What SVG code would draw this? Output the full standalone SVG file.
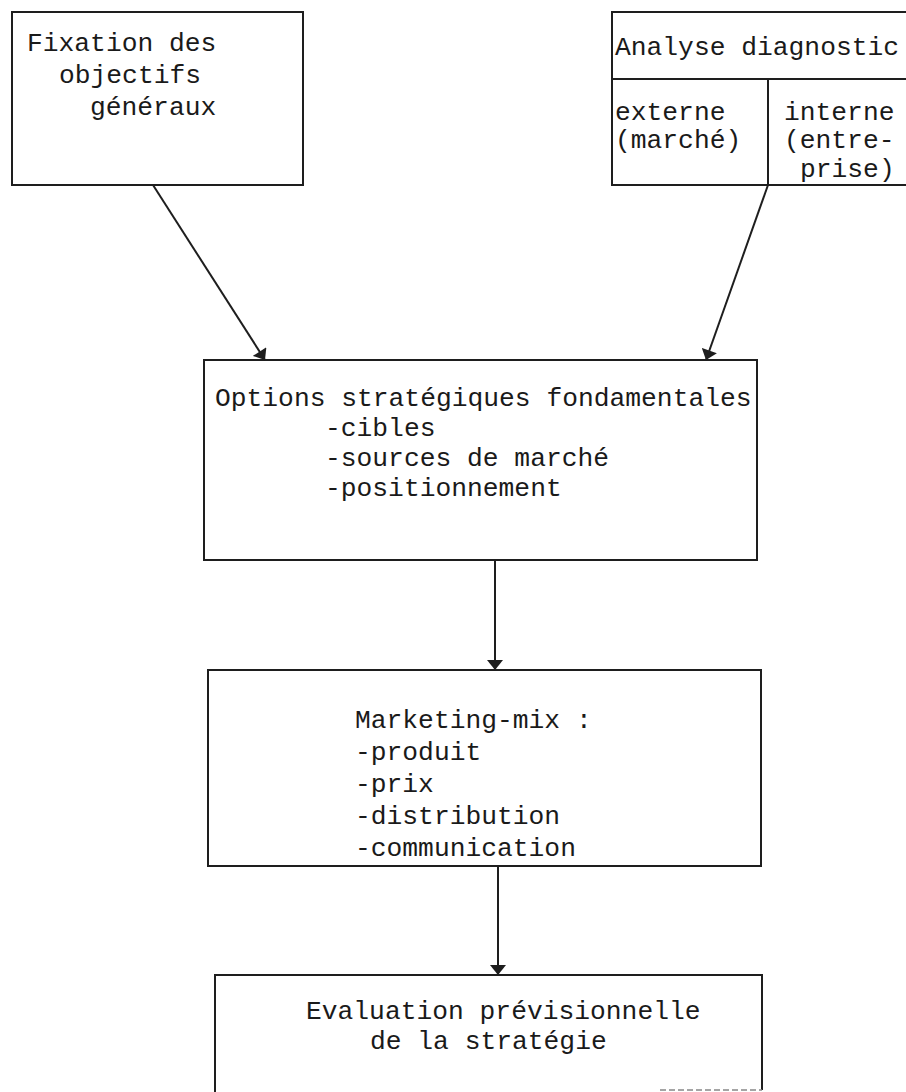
<svg xmlns="http://www.w3.org/2000/svg" width="906" height="1092" viewBox="0 0 906 1092">
<defs>
<style>
.box{fill:none;stroke:#1e1e1e;stroke-width:2}
.t{font-family:"Liberation Mono","DejaVu Sans Mono",monospace;font-size:26.3px;fill:#1a1a1a}
.c{stroke:#1e1e1e;stroke-width:2;fill:none}
</style>
<marker id="arr" viewBox="0 0 10 16" refX="10" refY="8" markerWidth="11" markerHeight="16" markerUnits="userSpaceOnUse" orient="auto">
<path d="M0,0 L10,8 L0,16 Z" fill="#1e1e1e"/>
</marker>
</defs>
<rect width="906" height="1092" fill="#ffffff"/>
<g id="fixation">
<rect class="box" x="12" y="12" width="291" height="173"/>
<text class="t" x="27" y="51">Fixation des</text>
<text class="t" x="59" y="83">objectifs</text>
<text class="t" x="90" y="115">généraux</text>
</g>
<g id="analyse">
<path class="box" d="M906,12 H612 V185 H906 M612,79 H906 M768,79 V185"/>
<text class="t" x="615" y="55">Analyse diagnostic</text>
<text class="t" x="615" y="120">externe</text>
<text class="t" x="615" y="148">(marché)</text>
<text class="t" x="784" y="120">interne</text>
<text class="t" x="784" y="148">(entre-</text>
<text class="t" x="800" y="177">prise)</text>
</g>
<g id="options">
<rect class="box" x="204" y="360" width="553" height="200"/>
<text class="t" x="215" y="406">Options stratégiques fondamentales</text>
<text class="t" x="325" y="436">-cibles</text>
<text class="t" x="325" y="466">-sources de marché</text>
<text class="t" x="325" y="496">-positionnement</text>
</g>
<g id="marketing">
<rect class="box" x="208" y="670" width="553" height="196"/>
<text class="t" x="355" y="728">Marketing-mix :</text>
<text class="t" x="355" y="760">-produit</text>
<text class="t" x="355" y="792">-prix</text>
<text class="t" x="355" y="824">-distribution</text>
<text class="t" x="355" y="856">-communication</text>
</g>
<g id="evaluation">
<path class="box" d="M215,1092 V975 H762 V1090"/>
<line x1="660" y1="1090" x2="762" y2="1090" stroke="#888" stroke-width="1.5" stroke-dasharray="6,3"/>
<text class="t" x="306" y="1019">Evaluation prévisionnelle</text>
<text class="t" x="370" y="1049">de la stratégie</text>
</g>
<g id="connectors">
<line class="c" x1="153" y1="185" x2="265" y2="360" marker-end="url(#arr)"/>
<line class="c" x1="768" y1="185" x2="706" y2="360" marker-end="url(#arr)"/>
<line class="c" x1="495" y1="560" x2="495" y2="670" marker-end="url(#arr)"/>
<line class="c" x1="498" y1="866" x2="498" y2="975" marker-end="url(#arr)"/>
</g>
</svg>
